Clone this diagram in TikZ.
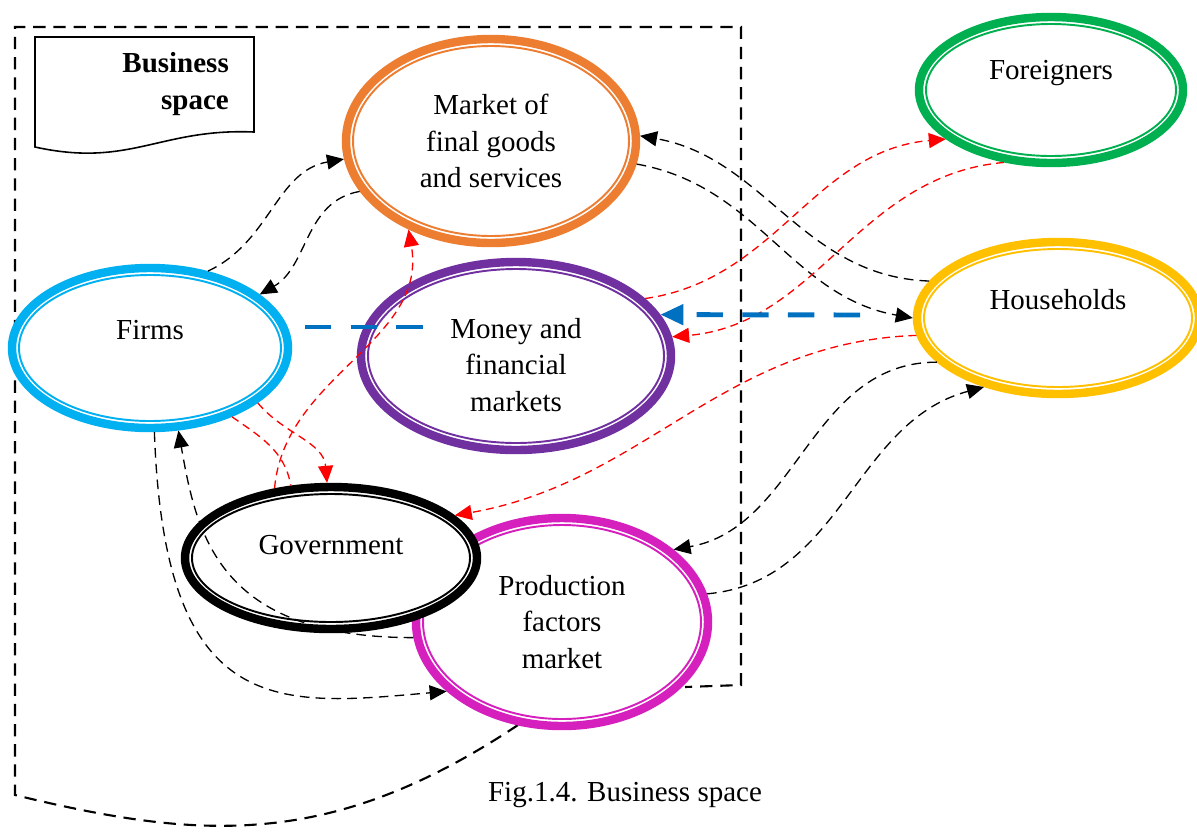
\documentclass[tikz,border=0pt]{standalone}
\usepackage{fontspec}
\setmainfont{Liberation Serif}
\usetikzlibrary{shapes.geometric,arrows.meta}
\definecolor{mktorange}{HTML}{ED7D31}
\definecolor{forgreen}{HTML}{00B050}
\definecolor{hhyellow}{HTML}{FFC000}
\definecolor{firmcyan}{HTML}{00B0F0}
\definecolor{monpurple}{HTML}{7030A0}
\definecolor{prodmag}{HTML}{D520BE}
\definecolor{flowblue}{HTML}{0070C0}
\tikzset{
  ring/.style={ellipse,draw=#1,line width=4.8pt,fill=white,inner sep=0pt,align=center},
  inring/.style={draw=#1,line width=1.1pt},
  flow/.style={line width=0.75pt,dash pattern=on 5.5pt off 3.5pt,->},
  redline/.style={red,line width=0.75pt,dash pattern=on 4.5pt off 3pt},
  redflow/.style={redline,->},
  blueflow/.style={draw=flowblue,line width=2.8pt,dash pattern=on 15pt off 11pt},
  bound/.style={line width=1.2pt,dash pattern=on 7pt off 4.5pt}
}
\begin{document}
\begin{tikzpicture}[>={Triangle[length=3.4mm,width=3mm]},font=\fontsize{16.5}{21}\selectfont]
        \useasboundingbox (0,0) rectangle (23.94,-16.68);
        %% Business space border
        \draw[bound] (10.36,-14.5) .. controls (6.6,-17.0) and (4.0,-16.8) .. (0.3,-15.9) -- (0.3,-0.54) -- (14.82,-0.54) -- (14.82,-13.7) -- (13.7,-13.74);
        \draw[line width=0.9pt] (0.7,-0.74) -- (5.08,-0.74) -- (5.08,-2.64) .. controls (3.2,-2.56) and (2.6,-3.36) .. (0.7,-2.94) -- cycle;
        \node[anchor=east,align=right,font=\fontsize{16.5}{21}\selectfont\bfseries] (bstitle) at (4.7,-1.68) {Business\\space};
        %% Market
        \node[ring=mktorange,minimum width=5.8cm,minimum height=4.08cm] (market) at (9.82,-2.82) {Market of\\final goods\\and services};
        \draw[inring=mktorange] (market.center) ellipse (2.76 and 1.9);
        %% Foreigners
        \node[ring=forgreen,minimum width=5.28cm,minimum height=2.92cm,label={[yshift=3.4mm]center:Foreigners}] (foreign) at (21.02,-1.8) {};
        \draw[inring=forgreen] (foreign.center) ellipse (2.5 and 1.32);
        %% Households
        \node[ring=hhyellow,minimum width=5.64cm,minimum height=3.04cm,label={[yshift=3.6mm]center:Households}] (hh) at (21.16,-6.36) {};
        \draw[inring=hhyellow] (hh.center) ellipse (2.68 and 1.38);
        %% Firms
        \node[ring=firmcyan,minimum width=5.52cm,minimum height=3.2cm,label={[yshift=3.6mm]center:Firms}] (firms) at (3,-6.96) {};
        \draw[inring=firmcyan] (firms.center) ellipse (2.62 and 1.46);
        %% Money
        \node[ring=monpurple,minimum width=6.2cm,minimum height=3.76cm,label={[yshift=-1.8mm,align=center]center:Money and\\financial\\markets}] (money) at (10.32,-7.12) {};
        \draw[inring=monpurple] (money.center) ellipse (2.96 and 1.74);
        %% Production factors
        \node[ring=prodmag,minimum width=5.84cm,minimum height=4.16cm] (prod) at (11.24,-12.44) {Production\\factors\\market};
        \draw[inring=prodmag] (prod.center) ellipse (2.78 and 1.94);
        %% Government
        \node[ring=black,minimum width=5.84cm,minimum height=2.84cm,label={[yshift=2.6mm]center:Government}] (gov) at (6.62,-11.16) {};
        \draw[inring=black] (gov.center) ellipse (2.78 and 1.28);
        %% black flows
        \draw[flow] (firms.53) to[out=25,in=190] (market.187);
        \draw[flow] (market.201) to[out=190,in=30] (firms.26);
        \draw[flow] (market.-9) to[out=-10,in=170] (hh.180);
        \draw[flow] (hh.164) to[out=178,in=-10] (market.2);
        \draw[flow] (hh.200) to[out=180,in=10] (prod.33);
        \draw[flow] (prod.11) to[out=5,in=195] (hh.223);
        \draw[flow] (firms.-87) to[out=-88,in=185,out looseness=1.9,in looseness=1.1] (prod.211);
        \draw[flow] (prod.186) to[out=180,in=-80,out looseness=1.6,in looseness=0.85] (firms.-71);
        %% red flows
        \draw[redflow] (money.24) to[out=8,in=185] (foreign.205);
        \draw[redflow] (foreign.237) to[out=185,in=5] (money.7);
        \draw[redflow] (hh.187) to[out=182,in=10] (gov.19);
        \draw[redflow] (gov.129) to[out=85,in=-80] (market.227);
        \draw[redline] (firms.-40) to[out=-35,in=100] (gov.119);
        \draw[redflow] (firms.-27) to[out=-50,in=95] (gov.93);
        %% blue flow
        \coordinate (bl1) at (6.1,-6.54);
        \coordinate (bl2) at (8.5,-6.54);
        \coordinate (bl3) at (17.2,-6.3);
        \draw[blueflow] (bl1) -- (bl2);
        \draw[blueflow,-{Triangle[length=4.6mm,width=4mm]}] (bl3) -- (money.16);
        %% caption
        \node (caption) at (12.5,-15.9) {Fig.1.4. Business space};
\end{tikzpicture}
\end{document}
